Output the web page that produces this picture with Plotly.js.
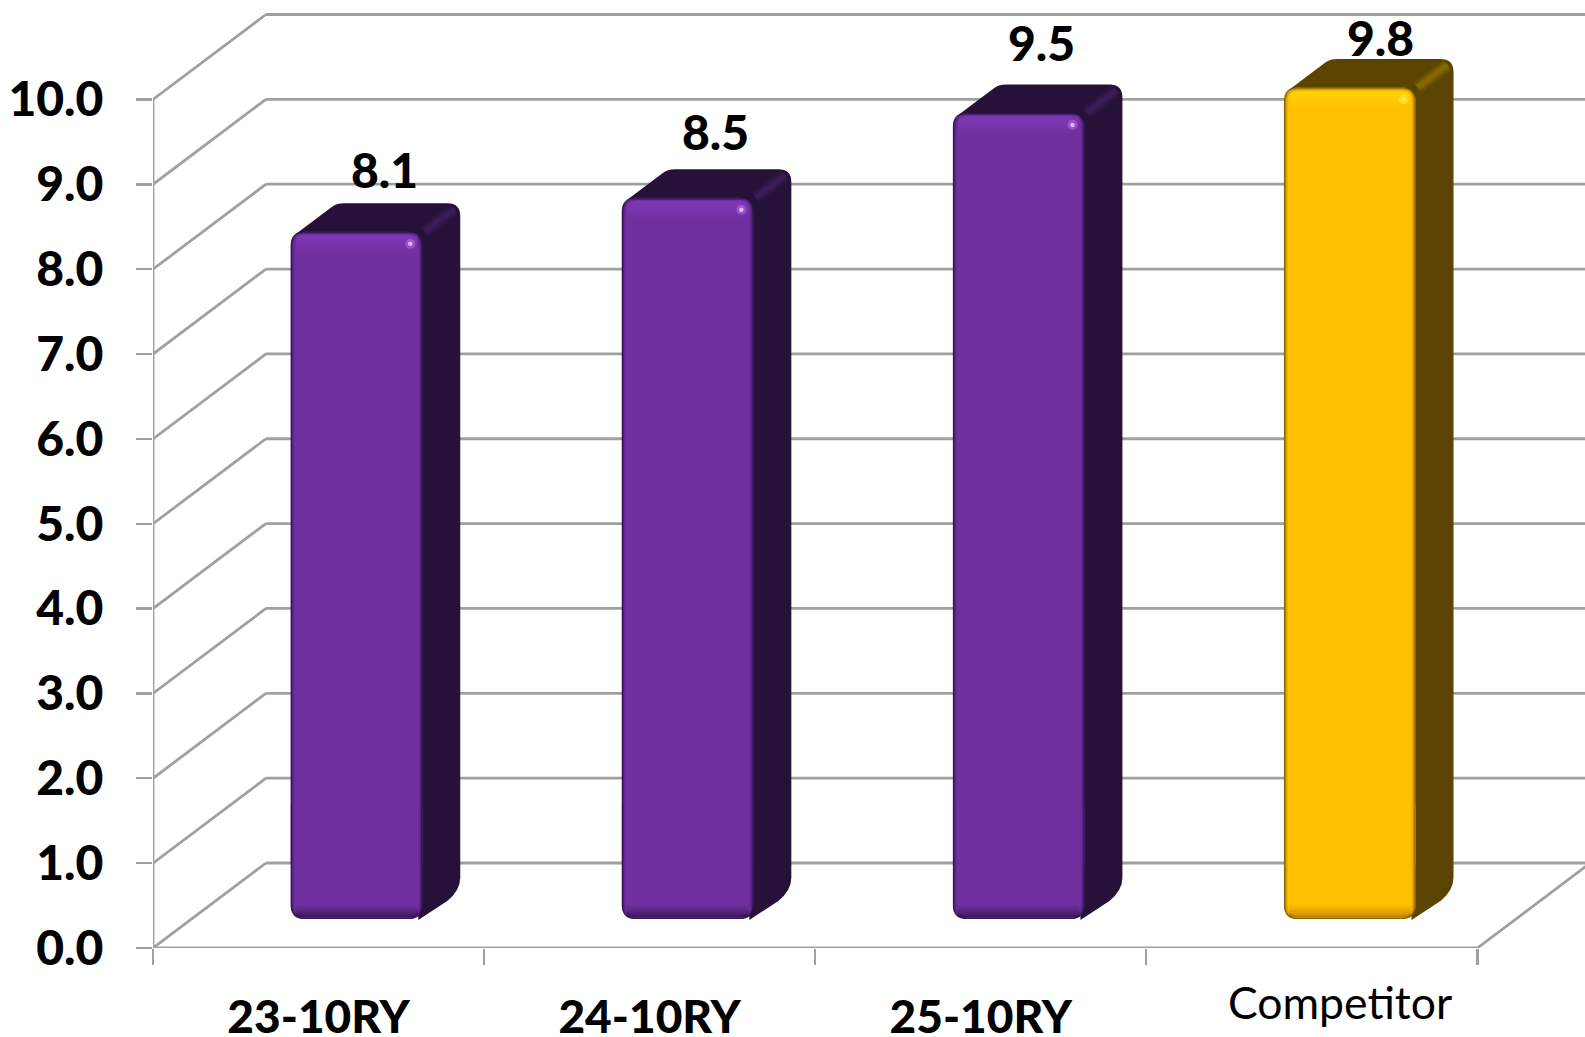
<!DOCTYPE html>
<html>
<head>
<meta charset="utf-8">
<title>10RY score comparison</title>
<script src="https://cdn.plot.ly/plotly-3.0.1.min.js"></script>
<style>html,body{margin:0;padding:0;background:#fff;overflow:hidden}</style>
</head>
<body>
<div id="chart" style="width:1585px;height:1037px"></div>
<script>
// Chart data
const categories = ["23-10RY", "24-10RY", "25-10RY", "Competitor"];
const values = [8.1, 8.5, 9.5, 9.8];
const yTicks = [0, 1, 2, 3, 4, 5, 6, 7, 8, 9, 10];

// Label nudges from the default spot above each column, in pixels
const labelShiftX = [28, 28, 23, 31];
const labelShiftY = [62, 66, 70, 50];

// Per-column colours
const frontColors = ["#7030A0", "#7030A0", "#7030A0", "#FFC000"];
const sideColors = ["#261238", "#261238", "#261238", "#5A4400"];
const ridgeColors = ["61,29,90", "61,29,90", "61,29,90", "138,106,0"];
const rimColors = ["40,14,66", "40,14,66", "40,14,66", "110,76,0"];
const sheenColors = ["132,58,188", "132,58,188", "132,58,188", "255,214,10"];
const shadeColors = ["52,20,84", "52,20,84", "52,20,84", "190,130,0"];
const glintColors = ["#E2B4F6", "#E2B4F6", "#E2B4F6", "#FFEA50"];
const haloColors = ["rgba(190,120,235,0.45)", "rgba(190,120,235,0.45)", "rgba(190,120,235,0.45)", "rgba(255,230,60,0.6)"];

// Page geometry: axis scale in pixels per data unit
const PX_PER_X = 331.2, PX_PER_Y = 84.85;
const px = p => p / PX_PER_X;
const py = p => p / PX_PER_Y;
const LEFT = 152.5, BOTTOM = 89, WIDTH = 1585, HEIGHT = 1037;
const xMax = (WIDTH - LEFT) / PX_PER_X;
const yMax = (HEIGHT - BOTTOM) / PX_PER_Y;

// Oblique projection of the 3D box
const WALL_DX = px(113), WALL_DY = py(85);
const BAR_DX = px(38), BAR_DY = py(28.5);
const BAR_W = px(131.5);
const BASE = py(29);
const FOOT = 0.5;
const RADIUS = 13;
const GRID = "#A0A0A0";

const P = (x, y) => x + "," + y;
function roundRect(x0, y0, x1, y1, r) {
  const rx = px(r), ry = py(r);
  return "M" + P(x0 + rx, y0) + " L" + P(x1 - rx, y0) + " Q" + P(x1, y0) + " " + P(x1, y0 + ry) +
    " L" + P(x1, y1 - ry) + " Q" + P(x1, y1) + " " + P(x1 - rx, y1) +
    " L" + P(x0 + rx, y1) + " Q" + P(x0, y1) + " " + P(x0, y1 - ry) +
    " L" + P(x0, y0 + ry) + " Q" + P(x0, y0) + " " + P(x0 + rx, y0) + " Z";
}

const shapes = [];
const line = (x0, y0, x1, y1, color, width, layer) => shapes.push({
  type: "line", xref: "x", yref: "y", x0, y0, x1, y1, layer: layer || "below",
  line: { color, width }
});

// Back wall, side wall and floor
yTicks.forEach(t => {
  line(0, t, WALL_DX, t + WALL_DY, GRID, 2.8);
  line(WALL_DX, t + WALL_DY, xMax, t + WALL_DY, GRID, 2.8);
});
line(0, 0, 4, 0, GRID, 3);
line(4, 0, 4 + WALL_DX, WALL_DY, GRID, 2.8);
line(0, 0, 0, 10, GRID, 2.8);

const frontLeft = i => i + 0.5 - BAR_W / 2 + px(38);
const frontRight = i => frontLeft(i) + BAR_W;

// Side and top faces sit behind the front faces
values.forEach((v, i) => {
  const l = frontLeft(i), r = frontRight(i), top = BASE + v;
  const rx = px(13), ry = py(13);
  const path = "M" + P(l + px(4), top - py(3)) +
    " L" + P(l + BAR_DX + px(4), top + BAR_DY - py(3)) +
    " Q" + P(l + BAR_DX + px(8), top + BAR_DY) + " " + P(l + BAR_DX + px(15), top + BAR_DY) +
    " L" + P(r + BAR_DX - rx, top + BAR_DY) +
    " Q" + P(r + BAR_DX, top + BAR_DY) + " " + P(r + BAR_DX, top + BAR_DY - ry) +
    " L" + P(r + BAR_DX, BASE + BAR_DY + ry) +
    " Q" + P(r + BAR_DX, BASE + BAR_DY) + " " + P(r + BAR_DX - rx, BASE + BAR_DY - ry * 0.8) +
    " L" + P(r - px(4), BASE - py(1)) + " L" + P(r - px(4), top - py(4)) + " Z";
  shapes.push({ type: "path", xref: "x", yref: "y", layer: "below", path, fillcolor: sideColors[i], line: { width: 0 } });
  // Soft ridge where the top and side faces meet
  [[13, 0.3], [8, 0.55], [4, 0.8]].forEach(([w, a]) => {
    line(r + px(2), top, r + BAR_DX - px(6), top + BAR_DY - py(6), "rgba(" + ridgeColors[i] + "," + a + ")", w);
  });
});

// Bevel rims around the front faces
const rimAlpha = [0.8, 0.42, 0.18, 0.07];
values.forEach((v, i) => {
  rimAlpha.forEach((a, k) => {
    shapes.push({
      type: "path", xref: "x", yref: "y", layer: "above",
      path: roundRect(frontLeft(i) + px(k + 0.5), BASE + py(k + 0.5), frontRight(i) - px(k + 0.5), BASE + v - py(k + 0.5), RADIUS - k),
      fillcolor: "rgba(0,0,0,0)",
      line: { color: "rgba(" + rimColors[i] + "," + a + ")", width: 1.2 }
    });
  });
});

// Front faces: the body carries the rounded top, the foot the rounded bottom
const barX = categories.map((c, i) => i + 0.5 + px(38));
const traces = [
  {
    type: "bar", name: "Score", x: barX,
    y: values.map(v => v - FOOT), base: values.map(() => BASE + FOOT), width: BAR_W,
    marker: { color: frontColors, line: { width: 0 } }, hoverinfo: "skip", showlegend: false
  },
  {
    type: "bar", name: "Foot", x: barX,
    y: values.map(() => -FOOT - 1), base: values.map(() => BASE + FOOT + 1), width: BAR_W,
    marker: { color: frontColors, line: { width: 0 } }, hoverinfo: "skip", showlegend: false
  }
];

// Sheen along the top edge and shading along the bottom edge of each front face
values.forEach((v, i) => {
  const l = frontLeft(i) + px(5), r = frontRight(i) - px(5);
  const t = BASE + v - py(2), b = t - py(20);
  traces.push({
    type: "scatter", mode: "none", x: [l, r, r, l, l], y: [t, t, b, b, t], fill: "toself",
    fillgradient: {
      type: "vertical", start: t, stop: b,
      colorscale: [[0, "rgba(" + sheenColors[i] + ",0.85)"], [1, "rgba(" + sheenColors[i] + ",0)"]]
    },
    hoverinfo: "skip", showlegend: false
  });
  const t2 = BASE + py(14), b2 = BASE + py(2);
  traces.push({
    type: "scatter", mode: "none", x: [l, r, r, l, l], y: [t2, t2, b2, b2, t2], fill: "toself",
    fillgradient: {
      type: "vertical", start: t2, stop: b2,
      colorscale: [[0, "rgba(" + shadeColors[i] + ",0)"], [1, "rgba(" + shadeColors[i] + ",0.8)"]]
    },
    hoverinfo: "skip", showlegend: false
  });
});

// Small glint near the upper right corner
const glintX = values.map((v, i) => frontRight(i) - px(12));
const glintY = values.map(v => BASE + v - py(12));
traces.push({
  type: "scatter", mode: "markers", x: glintX, y: glintY,
  marker: { size: 10, color: haloColors, line: { width: 0 } },
  hoverinfo: "skip", showlegend: false
});
traces.push({
  type: "scatter", mode: "markers", x: glintX, y: glintY,
  marker: { size: 4.5, color: glintColors, line: { width: 0 } },
  hoverinfo: "skip", showlegend: false
});

const font = { family: "Lato, 'Open Sans', sans-serif", color: "#000000" };

// Value labels and the lighter competitor label
const annotations = values.map((v, i) => ({
  xref: "x", yref: "y", x: i + 0.5 + px(38), y: BASE + v,
  text: v.toFixed(1), showarrow: false, xanchor: "center", yanchor: "middle",
  xshift: labelShiftX[i], yshift: labelShiftY[i],
  font: Object.assign({}, font, { size: 48, weight: 900 })
}));
annotations.push({
  xref: "x", yref: "paper", x: 3.5 + px(28), y: 0, yshift: -53,
  text: categories[3], showarrow: false, xanchor: "center", yanchor: "middle",
  font: Object.assign({}, font, { size: 44.5, weight: 400 })
});

const layout = {
  width: WIDTH, height: HEIGHT,
  margin: { l: LEFT, r: 0, t: 0, b: BOTTOM, pad: 0 },
  paper_bgcolor: "#FFFFFF", plot_bgcolor: "#FFFFFF",
  showlegend: false, barmode: "overlay", barcornerradius: RADIUS,
  shapes, annotations,
  xaxis: {
    range: [0, xMax], showgrid: false, zeroline: false, showline: false,
    tickmode: "array", tickvals: [0.5, 1.5, 2.5], ticktext: categories.slice(0, 3),
    ticks: "", ticklabelstandoff: 38,
    tickfont: Object.assign({}, font, { size: 46, weight: 900 }),
    minor: { tickmode: "array", tickvals: [0, 1, 2, 3, 4], ticks: "outside", ticklen: 16, tickwidth: 2.4, tickcolor: GRID, showgrid: false }
  },
  yaxis: {
    range: [0, yMax], showgrid: false, zeroline: false, showline: false,
    tickmode: "array", tickvals: yTicks, ticktext: yTicks.map(t => t.toFixed(1)),
    ticks: "outside", ticklen: 16, tickwidth: 2.4, tickcolor: GRID, ticklabelstandoff: 23,
    tickfont: Object.assign({}, font, { size: 48, weight: 900 })
  }
};

Plotly.newPlot("chart", traces, layout, { displayModeBar: false, staticPlot: true });
</script>
</body>
</html>
